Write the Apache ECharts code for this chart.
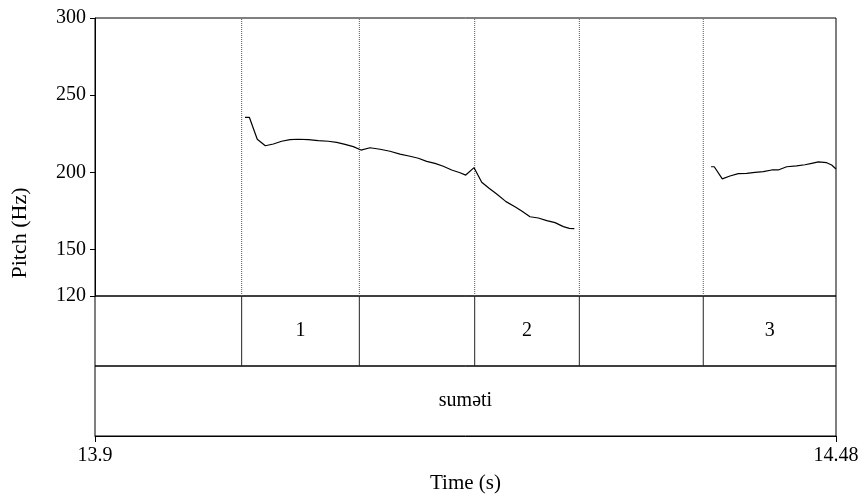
<!DOCTYPE html>
<html>
<head>
<meta charset="utf-8">
<script src="https://cdn.jsdelivr.net/npm/echarts@6/dist/echarts.min.js"></script>
<style>html,body{margin:0;padding:0;background:#fff;}#c{width:862px;height:495px;}</style>
</head>
<body>
<div id="c"></div>
<script>
// ---- data ----
const timeRange = [13.9, 14.48];
const pitchRange = [120, 300];
const pitchTicks = [120, 150, 200, 250, 300];
const timeTicks = [13.9, 14.48];
const boundaries = [14.0148, 14.1069, 14.1972, 14.2791, 14.3761];
const tier1Labels = ['', '1', '', '2', '', '3'];
const tier2Label = 'sumәti';

const contour1Times = [14.0174, 14.0208, 14.0270, 14.0333, 14.0396, 14.0461, 14.0526, 14.0591, 14.0670, 14.0748, 14.0826, 14.0892, 14.0957, 14.1022, 14.1082, 14.1153, 14.1231, 14.1309, 14.1387, 14.1466, 14.1531, 14.1596, 14.1661, 14.1726, 14.1792, 14.1857, 14.1902, 14.1967, 14.2027, 14.2082, 14.2144, 14.2217, 14.2287, 14.2340, 14.2405, 14.2470, 14.2536, 14.2601, 14.2666, 14.2713, 14.2752];
const contour1Pitch = [235.7, 235.7, 221.5, 217.3, 218.4, 220.2, 221.2, 221.5, 221.2, 220.6, 220.2, 219.5, 218.2, 216.7, 214.5, 216.0, 215.0, 213.7, 211.9, 210.5, 209.2, 207.2, 205.9, 204.0, 201.6, 199.8, 198.3, 203.1, 193.7, 189.9, 186.0, 181.1, 177.8, 175.0, 171.3, 170.5, 168.8, 167.5, 164.9, 163.8, 163.6];
const contour2Times = [14.3822, 14.3847, 14.3910, 14.3970, 14.4035, 14.4101, 14.4166, 14.4231, 14.4297, 14.4348, 14.4414, 14.4492, 14.4557, 14.4610, 14.4662, 14.4727, 14.4766, 14.4800];
const contour2Pitch = [203.7, 203.7, 195.8, 197.7, 199.2, 199.4, 200.1, 200.5, 201.6, 201.6, 203.7, 204.2, 205.0, 205.9, 206.8, 206.3, 204.8, 202.2];

// ---- build ----
const serif = 'Liberation Serif';
const FS = 20;
const zip = (a, b) => a.map((v, i) => [v, b[i]]);
const edges = [timeRange[0], ...boundaries, timeRange[1]];
const tier1Points = [];
tier1Labels.forEach((t, i) => { if (t) tier1Points.push({ value: [(edges[i] + edges[i + 1]) / 2, 0.5], label: { formatter: t } }); });

const boundarySeries = [];
boundaries.forEach(b => {
  boundarySeries.push({ type: 'line', xAxisIndex: 0, yAxisIndex: 0, data: [[b, pitchRange[0]], [b, pitchRange[1]]],
    showSymbol: false, silent: true, z: 1, lineStyle: { color: '#555', width: 1, type: [1, 1] } });
  boundarySeries.push({ type: 'line', xAxisIndex: 1, yAxisIndex: 1, data: [[b, 0], [b, 1]],
    showSymbol: false, silent: true, z: 1, lineStyle: { color: '#222', width: 1 } });
});

const L = 95, W = 741;
const chart = echarts.init(document.getElementById('c'), null, { renderer: 'canvas' });
chart.setOption({
  animation: false,
  backgroundColor: '#fff',
  grid: [
    { left: L, width: W, top: 18, height: 278, show: true, borderColor: '#000', borderWidth: 1, backgroundColor: 'transparent' },
    { left: L, width: W, top: 296, height: 70, show: true, borderColor: '#000', borderWidth: 1, backgroundColor: 'transparent' },
    { left: L, width: W, top: 366, height: 70, show: true, borderColor: '#000', borderWidth: 1, backgroundColor: 'transparent' }
  ],
  xAxis: [
    { gridIndex: 0, type: 'value', min: timeRange[0], max: timeRange[1], show: false },
    { gridIndex: 1, type: 'value', min: timeRange[0], max: timeRange[1], show: false },
    { gridIndex: 2, type: 'value', min: timeRange[0], max: timeRange[1],
      axisLine: { show: true, onZero: false, lineStyle: { color: '#000', width: 1 } },
      axisTick: { show: true, length: 6, customValues: timeTicks, lineStyle: { color: '#000' } },
      axisLabel: { show: true, customValues: timeTicks, color: '#000', fontFamily: serif, fontSize: FS, margin: 10,
        formatter: v => String(Math.round(v * 100) / 100) },
      splitLine: { show: false },
      name: 'Time (s)', nameLocation: 'middle', nameGap: 37,
      nameTextStyle: { color: '#000', fontFamily: serif, fontSize: 21 } }
  ],
  yAxis: [
    { gridIndex: 0, type: 'value', min: pitchRange[0], max: pitchRange[1],
      axisLine: { show: true, lineStyle: { color: '#000', width: 1 } },
      axisTick: { show: true, length: 5, customValues: pitchTicks, lineStyle: { color: '#000' } },
      axisLabel: { show: true, customValues: pitchTicks, color: '#000', fontFamily: serif, fontSize: FS, margin: 9 },
      splitLine: { show: false } },
    { gridIndex: 1, type: 'value', min: 0, max: 1, show: false },
    { gridIndex: 2, type: 'value', min: 0, max: 1, show: false }
  ],
  graphic: [
    { type: 'text', x: 20, y: 233, rotation: Math.PI / 2, originX: 0, originY: 0,
      style: { text: 'Pitch (Hz)', fill: '#000', font: '22px "Liberation Serif"', align: 'center', verticalAlign: 'middle' } }
  ],
  series: [
    ...boundarySeries,
    { type: 'line', xAxisIndex: 0, yAxisIndex: 0, data: zip(contour1Times, contour1Pitch), showSymbol: false, z: 3,
      lineStyle: { color: '#000', width: 1.2 } },
    { type: 'line', xAxisIndex: 0, yAxisIndex: 0, data: zip(contour2Times, contour2Pitch), showSymbol: false, z: 3,
      lineStyle: { color: '#000', width: 1.2 } },
    { type: 'scatter', xAxisIndex: 1, yAxisIndex: 1, data: tier1Points, symbolSize: 0, silent: true,
      itemStyle: { opacity: 1, color: 'transparent' },
      label: { show: true, position: 'inside', color: '#000', opacity: 1, fontFamily: serif, fontSize: FS } },
    { type: 'scatter', xAxisIndex: 2, yAxisIndex: 2, data: [{ value: [(timeRange[0] + timeRange[1]) / 2, 0.5] }], symbolSize: 0, silent: true,
      itemStyle: { opacity: 1, color: 'transparent' },
      label: { show: true, position: 'inside', formatter: tier2Label, color: '#000', opacity: 1, fontFamily: serif, fontSize: FS } }
  ]
});
</script>
</body>
</html>
